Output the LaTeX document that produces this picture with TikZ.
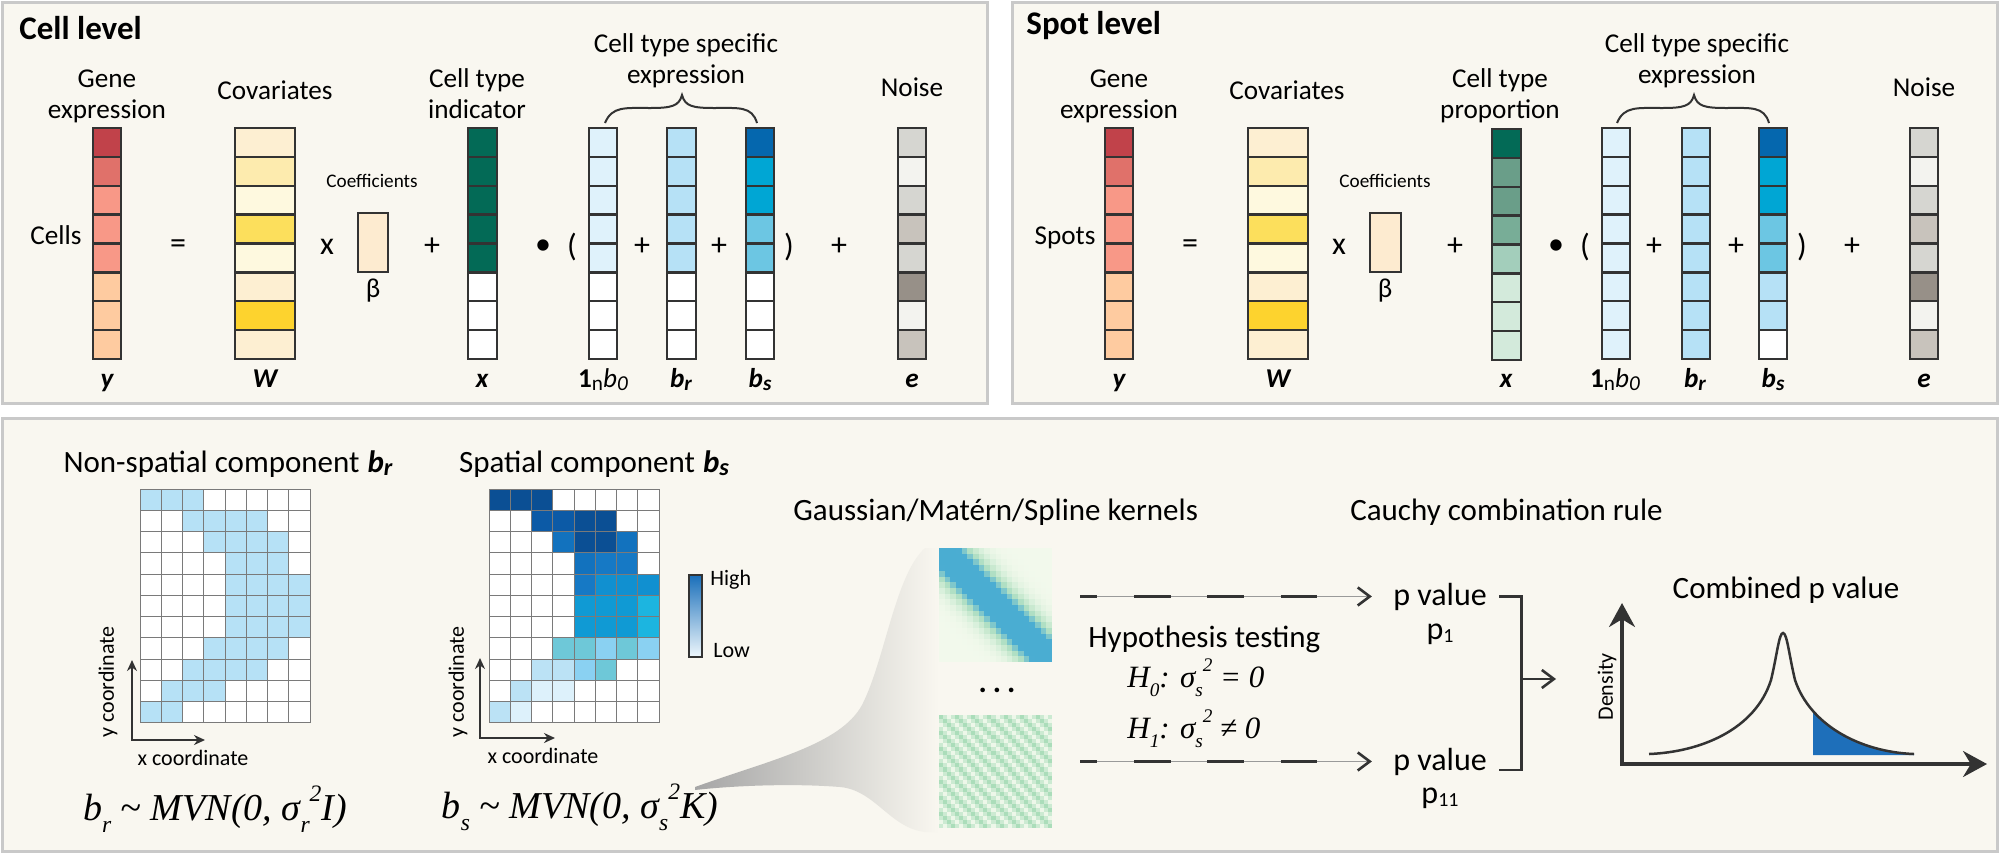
\documentclass[tikz,border=0pt]{standalone}
\usepackage{fontspec}
\usepackage{graphicx}
\setmainfont{Carlito}
\newfontfamily\tmsfont{Liberation Serif}
\usetikzlibrary{arrows.meta, positioning, calc}

\definecolor{panelfill}{HTML}{F9F7F0}
\definecolor{panelline}{HTML}{C9C9C9}
\definecolor{cellline}{HTML}{333333}
\definecolor{gridline}{HTML}{7A7A7A}
\definecolor{inkgray}{HTML}{333333}
\definecolor{dashgray}{HTML}{9A9A9A}
\definecolor{wh}{HTML}{FFFFFF}
% gene expression
\definecolor{yA}{HTML}{C1424A}
\definecolor{yB}{HTML}{E0716A}
\definecolor{yC}{HTML}{F89887}
\definecolor{yD}{HTML}{FECBA0}
% covariates
\definecolor{wA}{HTML}{FDEFD2}
\definecolor{wB}{HTML}{FDEBAE}
\definecolor{wC}{HTML}{FEF9DF}
\definecolor{wD}{HTML}{FCDF5C}
\definecolor{wE}{HTML}{FDD32E}
\definecolor{bt}{HTML}{FDEBD0}
% cell type
\definecolor{gA}{HTML}{036A56}
\definecolor{gB}{HTML}{6A9E89}
\definecolor{gC}{HTML}{78AD97}
\definecolor{gD}{HTML}{A3CEBB}
\definecolor{gE}{HTML}{D3EADB}
% blues
\definecolor{bL}{HTML}{DFF2FB}
\definecolor{bM}{HTML}{B6E1F6}
\definecolor{bD}{HTML}{0567AE}
\definecolor{bE}{HTML}{00A6D4}
\definecolor{bF}{HTML}{6CC6E3}
% noise
\definecolor{eA}{HTML}{D6D6D1}
\definecolor{eB}{HTML}{F3F3EF}
\definecolor{eC}{HTML}{C8C3BC}
\definecolor{eD}{HTML}{979088}
% spatial grid
\definecolor{gb}{HTML}{B6E1F6}
\definecolor{sA}{HTML}{0B4F94}
\definecolor{sB}{HTML}{0C5AA6}
\definecolor{sC}{HTML}{1272BE}
\definecolor{sD}{HTML}{1679C5}
\definecolor{sE}{HTML}{1190D0}
\definecolor{sF}{HTML}{109AD4}
\definecolor{sG}{HTML}{1CB5E0}
\definecolor{sH}{HTML}{6EC8D8}
\definecolor{sI}{HTML}{8AD1F2}
\definecolor{sJ}{HTML}{BBE2F5}
\definecolor{sK}{HTML}{DDF1FB}
\definecolor{cbtop}{HTML}{1A6FBA}
\definecolor{cbbot}{HTML}{EEF7FC}
% kernels
\definecolor{kblue}{HTML}{4AADD2}
\definecolor{kgreen}{HTML}{B5E2C3}
\definecolor{klight}{HTML}{F2F9EC}
\definecolor{kstripe}{HTML}{ABDDBA}
\definecolor{kpale}{HTML}{EDF7E9}
\definecolor{tailblue}{HTML}{1E6FBA}

\newcommand\fTitle{\fontsize{16.5}{18}\selectfont\bfseries}
\newcommand\fTop{\fontsize{13.6}{16}\selectfont}
\newcommand\fOp{\fontsize{16}{16}\selectfont}
\newcommand\fCoef{\fontsize{9.6}{11}\selectfont}
\newcommand\fBot{\fontsize{15.5}{18}\selectfont}
\newcommand\fSmall{\fontsize{11}{13}\selectfont}
\newcommand\fFmla{\tmsfont\itshape\fontsize{19}{22}\selectfont}
\newcommand\fHyp{\tmsfont\itshape\fontsize{15.5}{18}\selectfont}
\newcommand\fPv{\fontsize{16}{18}\selectfont}

\newcommand\fsub[1]{\raisebox{-0.32em}{\scalebox{0.62}{#1}}}
\newcommand\fsup[1]{\raisebox{0.5em}{\scalebox{0.62}{#1}}}
\newcommand\lsub[1]{\raisebox{-0.12em}{\scalebox{0.78}{#1}}}

% column vector: left x, width, top y, colours
\newcommand\vcol[4]{%
  \foreach \c [count=\k from 0] in {#4}
    \filldraw[cell, fill=\c] (#1,#3+\k*28.875) rectangle ++(#2,28.875);
}
% spot grid: left x, top y, rows of colours
\newcommand\spotgrid[3]{%
  \foreach \row [count=\r from 0] in {#3}
    \foreach \c [count=\q from 0] in \row
      \filldraw[gridcell, fill=\c] (#1+\q*21.25,#2+\r*21.25) rectangle ++(21.25,21.25);
}
% curly brace over the three blue columns: left x
\newcommand\topbrace[1]{%
  \draw[bracepath] (#1,123) .. controls (#1+7,106) and (#1+20,108) .. (#1+45,108)
     .. controls (#1+67,108) and (#1+74,106) .. (#1+77,95)
     .. controls (#1+80,106) and (#1+87,108) .. (#1+109,108)
     .. controls (#1+134,108) and (#1+147,106) .. (#1+152,123);
}

\begin{document}
\begin{tikzpicture}[
        x = 0.5pt, y = -0.5pt, % one unit = one pixel, y down
        panel/.style = {fill = panelfill, draw = panelline, line width = 1.5pt},
        cell/.style = {draw = cellline, line width = 1.15pt},
        gridcell/.style = {draw = gridline, line width = 0.5pt},
        bracepath/.style = {draw = inkgray, line width = 1pt},
        ttl/.style = {anchor = base west, font = \fTitle},
        txt/.style = {anchor = base, font = \fTop},
        op/.style = {font = \fOp},
        coef/.style = {anchor = base, font = \fCoef},
        veclab/.style = {anchor = base, font = \fTop\bfseries\itshape},
        bot/.style = {anchor = base, font = \fBot},
        small/.style = {font = \fSmall},
        fmla/.style = {anchor = base, font = \fFmla},
        hyp/.style = {anchor = base west, font = \fHyp},
        pval/.style = {anchor = base, font = \fPv},
        coordaxis/.style = {draw = inkgray, line width = 1.2pt,
            {Stealth[length=5.5pt,width=5pt]}-{Stealth[length=5.5pt,width=5pt]}},
        thinline/.style = {draw = dashgray, line width = 0.5pt,
            -{Straight Barb[length=6pt,width=9pt,line width=1.3pt,color=inkgray]}},
        dashseg/.style = {draw = inkgray, line width = 1.5pt,
            dash pattern = on 18.5pt off 18.25pt, dash phase = 10pt},
        openarrow/.style = {draw = inkgray, line width = 1.3pt,
            -{Straight Barb[length=6pt,width=9pt,line width=1.3pt]}},
        plotaxis/.style = {draw = inkgray, line width = 1.6pt,
            {Stealth[length=12pt,width=13pt]}-{Stealth[length=12pt,width=13pt]}}
    ]

    \tikzstyle{every node}=[inner sep = 0pt, text = black]

    \fill[white] (0,0) rectangle (2000,853);
    \useasboundingbox (0,0) rectangle (2000,853);

    % panels
    \draw[panel] (2,2) rectangle (987,403);
    \draw[panel] (1012,2) rectangle (1997,403);
    \draw[panel] (2,418) rectangle (1997,851);

    %%%% cell level
    \node[ttl] (celllvl) at (19,39) {Cell level};
    \node[txt] (geneA) at (107,87) {Gene};
    \node[txt] (geneB) at (107,118) {expression};
    \node[txt] (covA) at (275,99) {Covariates};
    \node[txt] (ctiA) at (477,87) {Cell type};
    \node[txt] (ctiB) at (477,118) {indicator};
    \node[txt] (ctsA) at (686,52) {Cell type specific};
    \node[txt] (ctsB) at (686,83) {expression};
    \node[txt] (noiseA) at (912,96) {Noise};
    \node[txt] (cellsA) at (56,244) {Cells};
    \node[coef] (coefA) at (372,187) {Coefficients};
    \node[txt] (betaA) at (373,297) {β};

    \vcol{93}{28}{128}{yA,yB,yC,yC,yC,yD,yD,yD}
    \vcol{235}{60}{128}{wA,wB,wC,wD,wC,wA,wE,wA}
    \filldraw[cell, fill=bt] (358,213) rectangle (388,272);
    \vcol{468}{29}{128}{gA,gA,gA,gA,gA,wh,wh,wh}
    \vcol{589}{28}{128}{bL,bL,bL,bL,bL,wh,wh,wh}
    \vcol{667}{29}{128}{bM,bM,bM,bM,bM,wh,wh,wh}
    \vcol{746}{28}{128}{bD,bE,bE,bF,bF,wh,wh,wh}
    \vcol{898}{28}{128}{eA,eB,eA,eC,eA,eD,eB,eC}
    \topbrace{605}

    \node[op] (eqA) at (178,247) {=};
    \node[op] (timesA) at (327,247) {x};
    \node[op] (plusA1) at (432,247) {+};
    \node[op] (dotA) at (543,247) {\textbullet};
    \node[op] (lparA) at (572,247) {(};
    \node[op] (plusA2) at (642,247) {+};
    \node[op] (plusA3) at (719,247) {+};
    \node[op] (rparA) at (789,247) {)};
    \node[op] (plusA4) at (839,247) {+};

    \node[veclab] (ylabA) at (107,387) {y};
    \node[veclab] (WlabA) at (265,387) {W};
    \node[veclab] (xlabA) at (482,387) {x};
    \node[veclab] (b0labA) at (603,387) {\upshape 1{\mdseries\lsub{n}}{\mdseries\itshape b\lsub{0}}};
    \node[veclab] (brlabA) at (681,387) {b\lsub{r}};
    \node[veclab] (bslabA) at (760,387) {b\lsub{s}};
    \node[veclab] (elabA) at (912,387) {e};

    %%%% spot level
    \node[ttl] (spotlvl) at (1026,34) {Spot level};
    \node[txt] (geneC) at (1119,87) {Gene};
    \node[txt] (geneD) at (1119,118) {expression};
    \node[txt] (covB) at (1287,99) {Covariates};
    \node[txt] (ctpA) at (1500,87) {Cell type};
    \node[txt] (ctpB) at (1500,118) {proportion};
    \node[txt] (ctsC) at (1697,52) {Cell type specific};
    \node[txt] (ctsD) at (1697,83) {expression};
    \node[txt] (noiseB) at (1924,96) {Noise};
    \node[txt] (spotsB) at (1065,244) {Spots};
    \node[coef] (coefB) at (1385,187) {Coefficients};
    \node[txt] (betaB) at (1385,297) {β};

    \vcol{1105}{28}{128}{yA,yB,yC,yC,yC,yD,yD,yD}
    \vcol{1248}{60}{128}{wA,wB,wC,wD,wC,wA,wE,wA}
    \filldraw[cell, fill=bt] (1370,213) rectangle (1401,272);
    \vcol{1492}{29}{129}{gA,gB,gB,gC,gD,gE,gE,gE}
    \vcol{1602}{28}{128}{bL,bL,bL,bL,bL,bL,bL,bL}
    \vcol{1682}{28}{128}{bM,bM,bM,bM,bM,bM,bM,bM}
    \vcol{1759}{28}{128}{bD,bE,bE,bF,bF,bM,bM,wh}
    \vcol{1910}{28}{128}{eA,eB,eA,eC,eA,eD,eB,eC}
    \topbrace{1617}

    \node[op] (eqB) at (1190,247) {=};
    \node[op] (timesB) at (1339,247) {x};
    \node[op] (plusB1) at (1455,247) {+};
    \node[op] (dotB) at (1556,247) {\textbullet};
    \node[op] (lparB) at (1585,247) {(};
    \node[op] (plusB2) at (1654,247) {+};
    \node[op] (plusB3) at (1736,247) {+};
    \node[op] (rparB) at (1802,247) {)};
    \node[op] (plusB4) at (1852,247) {+};

    \node[veclab] (ylabB) at (1119,387) {y};
    \node[veclab] (WlabB) at (1278,387) {W};
    \node[veclab] (xlabB) at (1506,387) {x};
    \node[veclab] (b0labB) at (1615,387) {\upshape 1{\mdseries\lsub{n}}{\mdseries\itshape b\lsub{0}}};
    \node[veclab] (brlabB) at (1695,387) {b\lsub{r}};
    \node[veclab] (bslabB) at (1773,387) {b\lsub{s}};
    \node[veclab] (elabB) at (1924,387) {e};

    %%%% bottom panel
    \node[bot] (nsTitle) at (228,472) {Non-spatial component\hspace{4pt}{\bfseries\itshape b\lsub{r}}};
    \node[bot] (spTitle) at (594,472) {Spatial component\hspace{4pt}{\bfseries\itshape b\lsub{s}}};

    \spotgrid{140}{489}{{gb,gb,gb,wh,wh,wh,wh,wh},{wh,wh,gb,gb,gb,gb,wh,wh},
      {wh,wh,wh,gb,gb,gb,gb,wh},{wh,wh,wh,wh,gb,gb,gb,wh},{wh,wh,wh,wh,gb,gb,gb,gb},
      {wh,wh,wh,wh,gb,gb,gb,gb},{wh,wh,wh,wh,gb,gb,gb,gb},{wh,wh,wh,gb,gb,gb,gb,wh},
      {wh,wh,gb,gb,gb,gb,wh,wh},{wh,gb,gb,gb,wh,wh,wh,wh},{gb,gb,wh,wh,wh,wh,wh,wh}}
    \spotgrid{489}{489}{{sA,sA,sA,wh,wh,wh,wh,wh},{wh,wh,sB,sB,sA,sA,wh,wh},
      {wh,wh,wh,sC,sA,sA,sC,wh},{wh,wh,wh,wh,sC,sD,sD,wh},{wh,wh,wh,wh,sD,sE,sE,sE},
      {wh,wh,wh,wh,sF,sF,sF,sG},{wh,wh,wh,wh,sF,sF,sF,sG},{wh,wh,wh,sH,sH,sI,sH,sI},
      {wh,wh,sJ,sJ,sI,sH,wh,wh},{wh,sJ,sK,sK,wh,wh,wh,wh},{sJ,sK,wh,wh,wh,wh,wh,wh}}

    \draw[coordaxis] (132,660) |- (205,740);
    \draw[coordaxis] (480,658) |- (555,738);
    \node[small, rotate=90] (ycoordA) at (108,682) {y coordinate};
    \node[small, anchor=base] (xcoordA) at (193,765) {x coordinate};
    \node[small, rotate=90] (ycoordB) at (458,682) {y coordinate};
    \node[small, anchor=base] (xcoordB) at (543,763) {x coordinate};

    \shadedraw[top color=cbtop, bottom color=cbbot, draw=inkgray, line width=0.6pt]
        (689,575) rectangle (702,657);
    \node[small, anchor=base west] (highL) at (710,585) {High};
    \node[small, anchor=base west] (lowL) at (713,657) {Low};

    \node[fmla] (brDist) at (215,820) {b\fsub{r} \char"7E{} MVN(0, σ\fsub{r}\fsup{2}I)};
    \node[fmla] (bsDist) at (580,818) {b\fsub{s} \char"7E{} MVN(0, σ\fsub{s}\fsup{2}K)};

    % zoom wedge from the spatial formula to the kernels
    \shade[left color=black!35, middle color=black!9, right color=panelfill]
        (695,787) .. controls (770,760) and (840,745) .. (862,705)
        .. controls (885,660) and (895,575) .. (925,548) -- (939,548)
        -- (939,832) -- (925,832) .. controls (890,828) and (875,790) .. (840,787)
        .. controls (790,783) and (730,786) .. (695,790) -- cycle;

    \node[bot, anchor=base west] (gaussT) at (793,520) {Gaussian/Matérn/Spline kernels};
    \node[bot, anchor=base east] (cauchyT) at (1663,520) {Cauchy combination rule};

    % kernel matrices
    \node[minimum size=56.5pt] (kern1) at (995.5,605) {};
    \node[minimum size=56.5pt] (kern2) at (995.5,771.5) {};
    \foreach \i in {0,...,19}{
        \foreach \j in {0,...,19}{
            \pgfmathsetmacro\kv{100*exp(-((\i-\j)^2)/25)}
            \ifdim\kv pt>70pt \def\kc{kblue}\else
                \ifdim\kv pt>35pt \pgfmathsetmacro\kp{(\kv-35)/35*100}\edef\kc{kblue!\kp!kgreen}\else
                    \pgfmathsetmacro\kp{\kv/35*100}\edef\kc{kgreen!\kp!klight}\fi\fi
            \fill[fill=\kc] (939+\j*5.65,548+\i*5.7) rectangle ++(5.9,5.95);
        }
    }
    \foreach \i in {0,...,27}{
        \foreach \j in {0,...,27}{
            \pgfmathsetmacro\kv{50+50*cos(90*(\i-\j))}
            \fill[fill=kstripe!\kv!kpale] (939+\j*4.036,715+\i*4.036) rectangle ++(4.2,4.2);
        }
    }
    \node[bot, font=\fBot\bfseries] (kdots) at (997,692) {.\hspace{3pt}.\hspace{3pt}.};

    \node[bot, font=\fBot, anchor=base west] (hypT) at (1088,647) {Hypothesis testing};
    \node[hyp] (h0L) at (1127,687) {H\fsub{0}: σ\fsub{s}\fsup{2} = 0};
    \node[hyp] (h1L) at (1127,738) {H\fsub{1}: σ\fsub{s}\fsup{2} ≠ 0};

    \node[pval] (pv1) at (1440,605) {p value};
    \node[pval] (p1L) at (1440,639) {p\lsub{\scalebox{0.8}{1}}};
    \node[pval] (pv2) at (1440,770) {p value};
    \node[pval] (p11L) at (1440,803) {p\lsub{\scalebox{0.8}{11}}};

    \draw[thinline, shorten <=14pt, shorten >=10.5pt] (kern1.east |- pv1.west) -- (pv1.west);
    \draw[dashseg, shorten <=14pt, shorten >=38pt] (kern1.east |- pv1.west) -- (pv1.west);
    \draw[thinline, shorten <=14pt, shorten >=10.5pt] (kern2.east |- pv2.west) -- (pv2.west);
    \draw[dashseg, shorten <=14pt, shorten >=38pt] (kern2.east |- pv2.west) -- (pv2.west);

    % combining bracket
    \draw[draw=inkgray, line width=1.4pt] ([xshift=6pt]pv1.east) -- ++(22,0) |- ([xshift=6pt]pv2.base east);
    \coordinate (brkmid) at (1521,679);
    \coordinate (plotin) at (1556,679);
    \draw[openarrow] (brkmid) -- (plotin);

    % combined p value density
    \node[bot] (combT) at (1786,598) {Combined p value};
    \coordinate (orig) at (1622,764);
    \draw[plotaxis] (1622,603) |- (1987,764);
    \node[small, rotate=90] (densL) at (1607,687) {Density};
    \begin{scope}
        \clip (1813,600) rectangle (1920,760);
        \fill[tailblue] (1795,680) .. controls (1810,725) and (1860,752) .. (1914,754)
            -- (1914,755) -- (1795,755) -- cycle;
    \end{scope}
    \draw[draw=inkgray, line width=1.25pt] (1649,754) .. controls (1700,752) and (1755,730) .. (1771,680)
        .. controls (1777,655) and (1779,633) .. (1783,633)
        .. controls (1787,633) and (1789,655) .. (1795,680)
        .. controls (1810,725) and (1860,752) .. (1914,754);

\end{tikzpicture}
\end{document}
